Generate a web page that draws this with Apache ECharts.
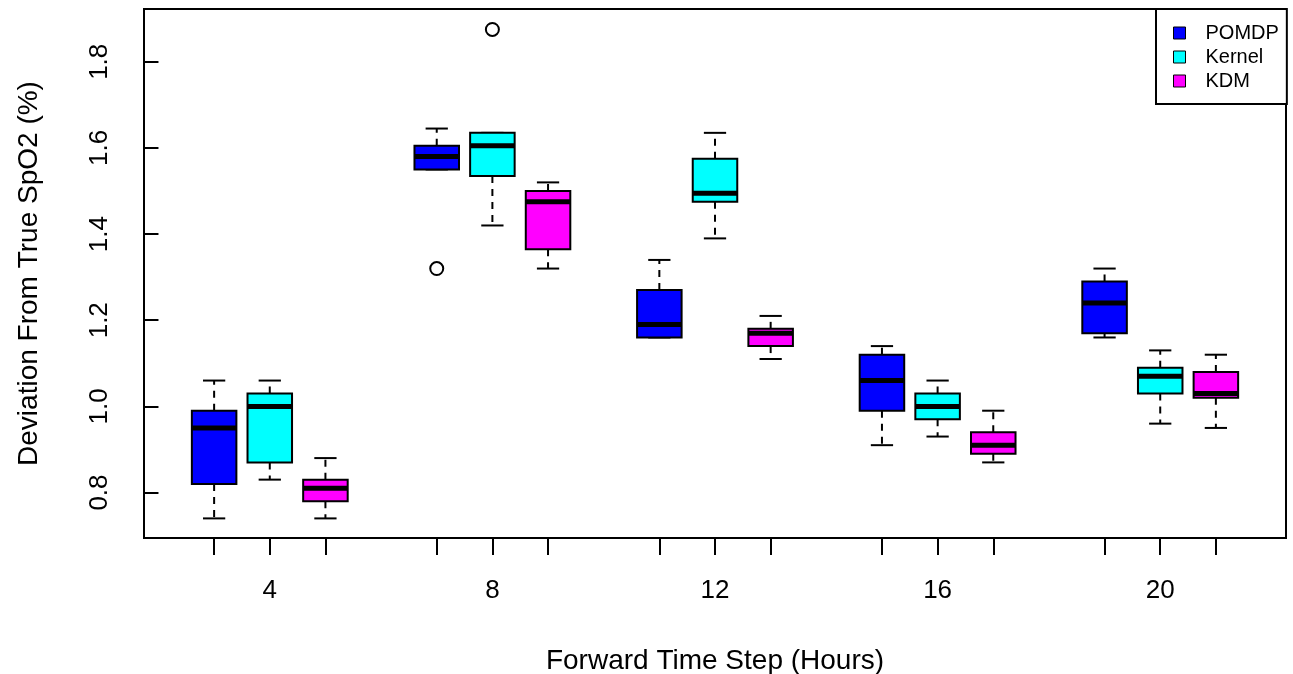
<!DOCTYPE html>
<html>
<head>
<meta charset="utf-8">
<script src="https://cdn.jsdelivr.net/npm/echarts@6/dist/echarts.min.js"></script>
<style>
html,body{margin:0;padding:0;background:#fff;}
#chart{width:1293px;height:674px;}
</style>
</head>
<body>
<div id="chart"></div>
<script>
// ---- data ----
const categories = ['4', '8', '12', '16', '20'];
const methods = ['POMDP', 'Kernel', 'KDM'];
const colors = ['#0000FF', '#00FFFF', '#FF00FF'];
// each entry: [lower whisker, Q1, median, Q3, upper whisker]
const pomdpStats = [
  [0.74, 0.82, 0.95, 0.99, 1.06],
  [1.55, 1.55, 1.58, 1.605, 1.645],
  [1.16, 1.16, 1.19, 1.27, 1.34],
  [0.91, 0.99, 1.06, 1.12, 1.14],
  [1.16, 1.17, 1.24, 1.29, 1.32]
];
const kernelStats = [
  [0.83, 0.87, 1.00, 1.03, 1.06],
  [1.42, 1.535, 1.605, 1.635, 1.635],
  [1.39, 1.475, 1.495, 1.575, 1.635],
  [0.93, 0.97, 1.00, 1.03, 1.06],
  [0.96, 1.03, 1.07, 1.09, 1.13]
];
const kdmStats = [
  [0.74, 0.78, 0.81, 0.83, 0.88],
  [1.32, 1.365, 1.475, 1.50, 1.52],
  [1.11, 1.14, 1.17, 1.18, 1.21],
  [0.87, 0.89, 0.91, 0.94, 0.99],
  [0.95, 1.02, 1.03, 1.08, 1.12]
];
// outliers: group index, method index, value
const outlierGroups = [1, 1];
const outlierMethods = [0, 1];
const outlierValues = [1.32, 1.875];
const yTickValues = [0.8, 1.0, 1.2, 1.4, 1.6, 1.8];

// ---- build ----
const allStats = [pomdpStats, kernelStats, kdmStats];
function posOf(g, m) { return g * 4 + m + 1; }
const tickPositions = [];
const labelPositions = [];
categories.forEach((c, g) => {
  methods.forEach((m, i) => tickPositions.push(posOf(g, i)));
  labelPositions.push(posOf(g, 1));
});
const labelMap = {};
categories.forEach((c, g) => { labelMap[posOf(g, 1)] = c; });

function renderBox(params, api) {
  const x = api.value(0);
  const lo = api.value(1), q1 = api.value(2), md = api.value(3), q3 = api.value(4), hi = api.value(5);
  const half = 0.4, cap = 0.2;
  const tl = api.coord([x - half, q3]);
  const br = api.coord([x + half, q1]);
  const c = api.coord([x, md]);
  const pHi = api.coord([x, hi]);
  const pLo = api.coord([x, lo]);
  const capL = api.coord([x - cap, hi])[0];
  const capR = api.coord([x + cap, hi])[0];
  const color = api.visual('color');
  const dash = { stroke: '#000', lineWidth: 2, lineDash: [7, 6] };
  const solid = { stroke: '#000', lineWidth: 2 };
  return {
    type: 'group',
    children: [
      { type: 'line', shape: { x1: c[0], y1: tl[1], x2: c[0], y2: pHi[1] }, style: dash },
      { type: 'line', shape: { x1: c[0], y1: br[1], x2: c[0], y2: pLo[1] }, style: dash },
      { type: 'line', shape: { x1: capL, y1: pHi[1], x2: capR, y2: pHi[1] }, style: solid },
      { type: 'line', shape: { x1: capL, y1: pLo[1], x2: capR, y2: pLo[1] }, style: solid },
      { type: 'rect', shape: { x: tl[0], y: tl[1], width: br[0] - tl[0], height: br[1] - tl[1] },
        style: { fill: color, stroke: '#000', lineWidth: 2 } },
      { type: 'line', shape: { x1: tl[0], y1: c[1], x2: br[0], y2: c[1] },
        style: { stroke: '#000', lineWidth: 5 } }
    ]
  };
}

const series = methods.map((name, i) => ({
  name: name,
  type: 'custom',
  color: colors[i],
  itemStyle: { color: colors[i], borderColor: '#000', borderWidth: 1 },
  renderItem: renderBox,
  encode: { x: 0, y: [1, 2, 3, 4, 5] },
  data: allStats[i].map((s, g) => [posOf(g, i)].concat(s))
}));
series.push({
  name: 'outliers',
  type: 'scatter',
  symbol: 'circle',
  symbolSize: 13,
  itemStyle: { color: 'transparent', borderColor: '#000', borderWidth: 2, opacity: 1 },
  data: outlierValues.map((v, k) => [posOf(outlierGroups[k], outlierMethods[k]), v])
});

const font = 'Liberation Sans, Arial, Helvetica, sans-serif';
const option = {
  animation: false,
  textStyle: { fontFamily: font },
  grid: { left: 144, right: 7, top: 9, bottom: 136, outerBoundsMode: 'none', containLabel: false,
          show: true, borderColor: '#000', borderWidth: 2, backgroundColor: 'transparent' },
  legend: {
    data: methods,
    orient: 'vertical',
    left: 1156, top: 9,
    padding: [14, 8, 13, 17],
    itemWidth: 12, itemHeight: 12,
    itemGap: 4,
    icon: 'rect',
    borderColor: '#000', borderWidth: 2, backgroundColor: '#fff',
    itemStyle: { borderColor: '#000', borderWidth: 1 },
    textStyle: { fontSize: 20, color: '#000', fontFamily: font, lineHeight: 20, padding: [0, 0, 0, 15] }
  },
  xAxis: {
    type: 'value', min: -0.26, max: 20.26,
    splitLine: { show: false },
    axisLine: { show: false },
    axisTick: { show: true, customValues: tickPositions, length: 17, lineStyle: { color: '#000', width: 2 } },
    axisLabel: { customValues: labelPositions, formatter: v => labelMap[v] || '', fontSize: 26, color: '#000', margin: 40, fontFamily: font },
    name: 'Forward Time Step (Hours)', nameLocation: 'middle', nameGap: 109,
    nameTextStyle: { fontSize: 28, color: '#000', fontFamily: font }
  },
  yAxis: {
    type: 'value', min: 0.6945, max: 1.9225,
    splitLine: { show: false },
    axisLine: { show: false },
    axisTick: { show: true, customValues: yTickValues, length: 15, lineStyle: { color: '#000', width: 2 } },
    axisLabel: { customValues: yTickValues, formatter: v => v.toFixed(1), rotate: 90, fontSize: 26, color: '#000', margin: 31, fontFamily: font },
    name: 'Deviation From True SpO2 (%)', nameLocation: 'middle', nameGap: 101,
    nameTextStyle: { fontSize: 28, color: '#000', fontFamily: font }
  },
  series: series
};
const chart = echarts.init(document.getElementById('chart'), null, { renderer: 'canvas' });
chart.setOption(option);
</script>
</body>
</html>
